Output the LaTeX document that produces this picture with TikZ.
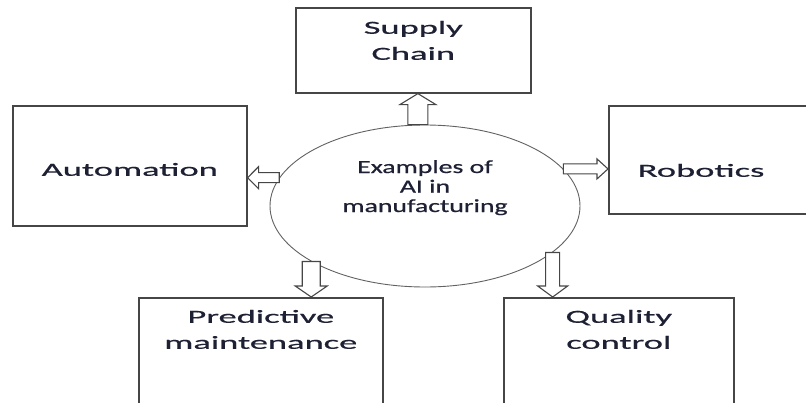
\documentclass[tikz,border=0pt]{standalone}
\usepackage{fontspec}
\newfontfamily\boxfont[FakeStretch=1.97,FakeBold=0.7]{Carlito}
\newfontfamily\ovalfont[FakeStretch=1.5,FakeBold=0.7]{Carlito}
\usetikzlibrary{calc,shapes.geometric}
\definecolor{ink}{RGB}{30,32,52}
\definecolor{edge}{RGB}{70,70,70}

% hollow block arrow: half shaft, half head, from, to
\newcommand{\blockarrow}[4]{%
  \coordinate (ba-h) at ($(#4)!11pt!(#3)$);
  \draw[hollowarrow] ($(#3)!#1!90:(#4)$) -- ($(ba-h)!#1!90:(#4)$)
    -- ($(ba-h)!#2!90:(#4)$) -- (#4) -- ($(ba-h)!#2!-90:(#4)$)
    -- ($(ba-h)!#1!-90:(#4)$) -- ($(#3)!#1!-90:(#4)$) -- cycle;}

\begin{document}
\begin{tikzpicture}[x=1pt,y=-1pt,
    box/.style={draw=edge,line width=1.6pt,fill=white,inner xsep=0pt,align=center,
      anchor=north west,text=ink,font=\boxfont\fontsize{18.5}{26}\selectfont},
    hollowarrow/.style={draw=edge,line width=1.1pt,fill=white,line join=miter}]
  \useasboundingbox (0,0) rectangle (806,402);
  \clip (0,0) rectangle (806,402);
  \node[ellipse,draw=edge!85,line width=0.9pt,fill=white,inner sep=0pt,
    minimum width=310pt,minimum height=162pt,align=center,text=ink,
    text height=52pt,text depth=40pt,
    font=\ovalfont\fontsize{18.5}{19.5}\selectfont] (c) at (425,206)
    {Examples of\\AI in\\manufacturing};
  \node[box,minimum width=235pt,inner ysep=12pt,text height=40pt,text depth=21pt]
    (sc) at (295,7) {Supply\\Chain};
  \node[box,minimum width=234pt,minimum height=120pt,inner ysep=0pt,
    text height=20pt,text depth=0pt] (auto) at (12,105) {Automation};
  \node[box,text width=193pt,align=left,inner xsep=29pt,minimum height=108pt,
    inner ysep=0pt,text height=34pt,text depth=0pt] (rob) at (608,105) {Robotics};
  \node[box,minimum width=244pt,inner ysep=11pt,text height=40pt,text depth=100pt]
    (pm) at (138,297) {Predictive\\maintenance};
  \node[box,minimum width=230pt,inner ysep=11pt,text height=40pt,text depth=100pt]
    (qc) at (503,297) {Quality\\control};
  % arrows out of the oval
  \coordinate (up) at (c.95 |- sc.south);
  \coordinate (lt) at (c.169 -| auto.east);
  \coordinate (rt) at (c.15 -| rob.west);
  \coordinate (dl) at (c.206 |- pm.north);
  \coordinate (dr) at (c.340 |- qc.north);
  \blockarrow{10pt}{18pt}{c.95}{up}
  \blockarrow{5pt}{11pt}{c.169}{lt}
  \blockarrow{5pt}{10pt}{c.15}{rt}
  \blockarrow{9pt}{16pt}{c.206}{dl}
  \blockarrow{7pt}{15pt}{c.340}{dr}
\end{tikzpicture}
\end{document}
